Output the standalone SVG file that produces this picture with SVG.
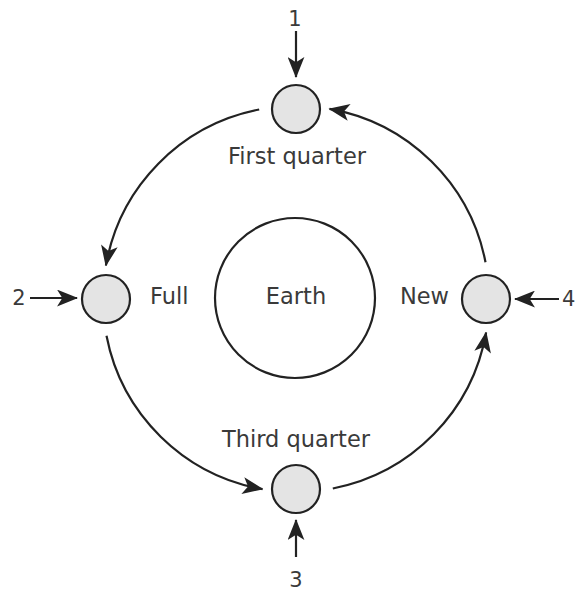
<svg xmlns="http://www.w3.org/2000/svg" width="577" height="591" viewBox="0 0 577 591">
<style>
.moon{fill:#e4e4e4;stroke:#222;stroke-width:2.2}
.earth{fill:#fff;stroke:#222;stroke-width:2.2}
.lbl{font-family:"DejaVu Sans",Verdana,sans-serif;font-size:22.5px;fill:#3a3a3a}
.num{font-family:"DejaVu Sans",Verdana,sans-serif;font-size:21px;fill:#3a3a3a}
.con{fill:none;stroke:#222;stroke-width:2.2;marker-end:url(#ah)}
</style>
<defs>
<marker id="ah" viewBox="0 0 20 16" refX="19" refY="8" markerWidth="21" markerHeight="17" markerUnits="userSpaceOnUse" orient="auto">
<path d="M0,0 L20,8 L0,16 L5,8 z" fill="#222"/>
</marker>
</defs>
<rect width="577" height="591" fill="#fff"/>
<g id="connectors">
<path class="con" d="M259.2,109.5 A193,193 0 0 0 105.9,265.5"/>
<path class="con" d="M106.5,335.8 A193,193 0 0 0 262.5,489.1"/>
<path class="con" d="M332.8,488.5 A193,193 0 0 0 486.1,332.5"/>
<path class="con" d="M485.5,262.2 A193,193 0 0 0 329.5,108.9"/>
<path class="con" d="M296,31 L296,77"/>
<path class="con" d="M30,298 L77,298"/>
<path class="con" d="M559,299 L515,299"/>
<path class="con" d="M296,557 L296,520"/>
</g>
<g id="earth">
<circle class="earth" cx="295" cy="298" r="80"/>
<text class="lbl" x="296" y="304" text-anchor="middle">Earth</text>
</g>
<g id="first-quarter">
<circle class="moon" cx="296" cy="109" r="24"/>
<text class="lbl" x="297" y="164" text-anchor="middle">First quarter</text>
</g>
<g id="full">
<circle class="moon" cx="106" cy="299" r="24"/>
<text class="lbl" x="150" y="304">Full</text>
</g>
<g id="new">
<circle class="moon" cx="486" cy="299" r="24"/>
<text class="lbl" x="449" y="304" text-anchor="end">New</text>
</g>
<g id="third-quarter">
<circle class="moon" cx="296" cy="489" r="24"/>
<text class="lbl" x="296" y="447" text-anchor="middle">Third quarter</text>
</g>
<g id="labels">
<text class="num" x="295" y="26" text-anchor="middle">1</text>
<text class="num" x="19" y="305" text-anchor="middle">2</text>
<text class="num" x="296" y="587" text-anchor="middle">3</text>
<text class="num" x="562" y="306">4</text>
</g>
</svg>
